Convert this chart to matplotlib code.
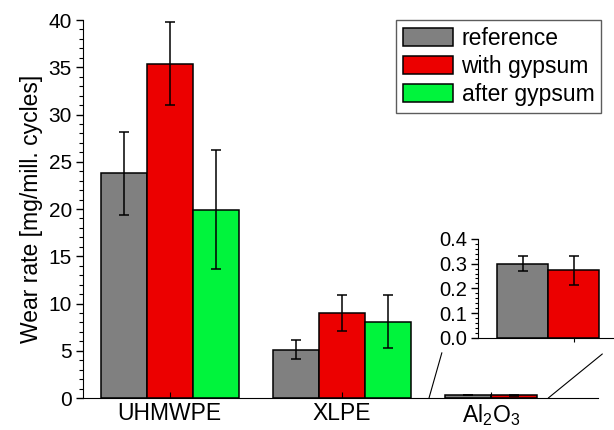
import numpy as np
import matplotlib
matplotlib.use("Agg")
import matplotlib.pyplot as plt
from matplotlib.patches import ConnectionPatch
from matplotlib.ticker import MultipleLocator, FormatStrFormatter

plt.rcParams['font.family'] = ['Liberation Sans', 'DejaVu Sans']
plt.rcParams['mathtext.default'] = 'regular'

# data
materials = ['UHMWPE', 'XLPE', 'Al$_2$O$_3$']
series = ['reference', 'with gypsum', 'after gypsum']
colors = ['#808080', '#ec0000', '#00f43c']

uhmwpe_mean = [23.8, 35.4, 19.9]
uhmwpe_err = [4.4, 4.4, 6.3]
xlpe_mean = [5.1, 9.0, 8.05]
xlpe_err = [1.0, 1.95, 2.8]
al2o3_mean = [0.30, 0.273]
al2o3_err = [0.03, 0.058]

means = [uhmwpe_mean, xlpe_mean, al2o3_mean]
errs = [uhmwpe_err, xlpe_err, al2o3_err]

gap = 0.74
bar_kw = dict(width=1.0, edgecolor='black', linewidth=1.1)
err_kw = dict(ecolor='black', elinewidth=1.1, capsize=3.5, capthick=1.1)

fig = plt.figure(figsize=(6.14, 4.30), dpi=100)
ax = fig.add_axes([0.135, 0.0744, 0.839, 0.879])

centers = []
start = 0.0
for g, (m, e) in enumerate(zip(means, errs)):
    pos = start + np.arange(len(m))
    for j in range(len(m)):
        ax.bar(pos[j], m[j], yerr=e[j], color=colors[j],
               label=series[j] if g == 0 else None,
               error_kw=err_kw, **bar_kw)
    centers.append(pos.mean())
    start = pos[-1] + 1 + gap

ax.set_xlim(-0.885, 10.3)
ax.set_ylim(0, 40)
ax.set_xticks(centers)
ax.set_xticklabels(materials, fontsize=16.5)
ax.tick_params(axis='x', direction='in', length=4, pad=3)
ax.yaxis.set_major_locator(MultipleLocator(5))
ax.yaxis.set_minor_locator(MultipleLocator(1))
ax.tick_params(axis='y', which='major', labelsize=15, length=5, width=1, pad=3)
ax.tick_params(axis='y', which='minor', length=3, width=0.8)
ax.spines['top'].set_visible(False)
ax.spines['right'].set_visible(False)
ax.set_ylabel('Wear rate [mg/mill. cycles]', fontsize=16.5, labelpad=4)

leg = ax.legend(loc='upper right', bbox_to_anchor=(1.006, 1.0), fontsize=16.5,
                frameon=True, fancybox=False, edgecolor='#333333',
                handlelength=2.2, handleheight=0.85, handletextpad=0.35,
                labelspacing=0.22, borderpad=0.3, borderaxespad=0.0)
leg.get_frame().set_linewidth(1.0)

# zoom inset for Al2O3
ins = fig.add_axes([0.7785, 0.2147, 0.22, 0.2295])
ipos = np.arange(len(al2o3_mean))
for j in range(len(al2o3_mean)):
    ins.bar(ipos[j], al2o3_mean[j], yerr=al2o3_err[j], color=colors[j],
            error_kw=err_kw, **bar_kw)
ins.set_xlim(-0.873, 1.77)
ins.set_ylim(0, 0.4)
ins.set_xticks([1])
ins.set_xticklabels([''])
ins.tick_params(axis='x', length=3)
ins.yaxis.set_major_locator(MultipleLocator(0.1))
ins.yaxis.set_minor_locator(MultipleLocator(0.02))
ins.yaxis.set_major_formatter(FormatStrFormatter('%.1f'))
ins.tick_params(axis='y', which='major', labelsize=14.5, length=5, width=1, pad=3)
ins.tick_params(axis='y', which='minor', length=2.5, width=0.8)
ins.spines['top'].set_visible(False)
ins.spines['right'].set_visible(False)
ins.patch.set_alpha(0)

al_start = centers[2] - 0.5
for xa, xb, yb in [(al_start - 0.85, -1.58, -0.061), (al_start + 1.74, 1.56, -0.066)]:
    con = ConnectionPatch(xyA=(xa, 0), coordsA=ax.transData,
                          xyB=(xb, yb), coordsB=ins.transData,
                          color='black', linewidth=0.8)
    fig.add_artist(con)

fig.savefig('out.png', dpi=100)
